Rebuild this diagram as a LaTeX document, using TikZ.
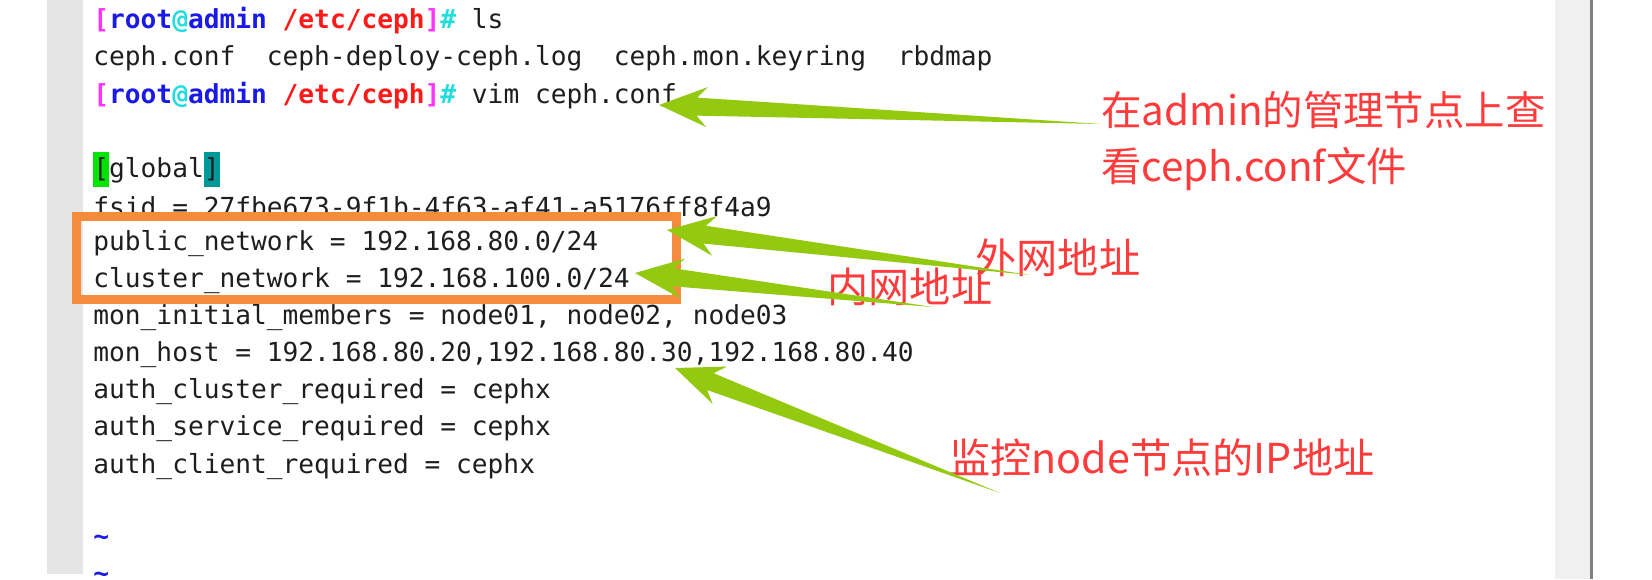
\documentclass[tikz,border=0pt]{standalone}
\usepackage{fontspec}
\setmonofont{DejaVu Sans Mono}
\newfontfamily\cjk{Noto Sans CJK SC}
\usetikzlibrary{calc}
\definecolor{agreen}{HTML}{93C90E}
\definecolor{boxorange}{HTML}{F58B3C}
\definecolor{lblred}{HTML}{FF3B3B}
\definecolor{pmag}{HTML}{FF33FF}
\definecolor{pblue}{HTML}{1A1AE6}
\definecolor{pcyan}{HTML}{22DDDD}
\definecolor{pred}{HTML}{FF1A1A}
\definecolor{txt}{HTML}{1E1E1E}
\newcommand\garrow[2]{%
  \fill[agreen] (#1) -- ($(#1)!24pt!(#2)!10pt!90:(#2)$) -- ($(#1)!19pt!(#2)!4.5pt!90:(#2)$) -- (#2)
   -- ($(#1)!19pt!(#2)!4.5pt!-90:(#2)$) -- ($(#1)!24pt!(#2)!10pt!-90:(#2)$) -- cycle;}
\newcommand\prompt{{\bfseries\color{pmag}[\color{pblue}root\color{pcyan}@\color{pblue}admin \color{pred}/etc/ceph\color{pmag}]\color{pcyan}\#}}
\newcommand\us{\char95\relax}
\begin{document}
\begin{tikzpicture}[x=0.5pt,y=-0.5pt,
  term/.style={anchor=west,inner sep=0,font=\ttfamily\fontsize{13.1pt}{15pt}\selectfont,text=txt},
  lbl/.style={anchor=west,inner sep=0,font=\cjk\fontsize{20.6pt}{27pt}\selectfont,text=lblred,align=left}]
\useasboundingbox (0,0) rectangle (1652,579);
\fill[white] (0,0) rectangle (1652,579);
\fill[black!10] (47,0) rectangle (83,574);
\fill[black!6] (1555,0) rectangle (1590,579);
\fill[black!50] (1590,0) rectangle (1593,579);
\def\ly#1{21+37.1*#1}
\node[term] (l0) at (93,{\ly{0}}) {\prompt{} ls};
\node[term] (l1) at (93,{\ly{1}}) {ceph.conf\ \ ceph-deploy-ceph.log\ \ ceph.mon.keyring\ \ rbdmap};
\node[term] (l2) at (93,{\ly{2}}) {\prompt{} vim ceph.conf};
\node[term] (l4) at (93,{\ly{4}}) {\colorbox{green!90!black}{\hspace*{-\fboxsep}[\hspace*{-\fboxsep}}global\colorbox{teal!80!cyan}{\hspace*{-\fboxsep}]\hspace*{-\fboxsep}}};
\node[term] (l5) at (93,{\ly{5}}) {fsid = 27fbe673-9f1b-4f63-af41-a5176ff8f4a9};
\node[term] (l6) at (93,{\ly{6}}) {public\us network = 192.168.80.0/24};
\node[term] (l7) at (93,{\ly{7}}) {cluster\us network = 192.168.100.0/24};
\node[term] (l8) at (93,{\ly{8}}) {mon\us initial\us members = node01, node02, node03};
\node[term] (l9) at (93,{\ly{9}}) {mon\us host = 192.168.80.20,192.168.80.30,192.168.80.40};
\node[term] (l10) at (93,{\ly{10}}) {auth\us cluster\us required = cephx};
\node[term] (l11) at (93,{\ly{11}}) {auth\us service\us required = cephx};
\node[term] (l12) at (93,{\ly{12}}) {auth\us client\us required = cephx};
\node[term,text=pblue] (l14) at (93,{\ly{14}}) {\bfseries\textasciitilde};
\node[term,text=pblue] (l15) at (93,{\ly{15}}) {\bfseries\textasciitilde};
\draw[boxorange,line width=4.5pt] (76,216) rectangle (676,299);
\node[lbl,font=\cjk\fontsize{20.2pt}{28pt}\selectfont] (t1) at (1101,141) {在admin的管理节点上查\\看ceph.conf文件};
\node[lbl] (t2) at (975,258) {外网地址};
\node[lbl] (t3) at (827,287) {内网地址};
\node[lbl] (t4) at (949,458) {监控node节点的IP地址};
\coordinate (a1h) at (659,105); \coordinate (a1t) at (1101,124);
\coordinate (a2h) at (667,230); \coordinate (a2t) at (1030,275);
\coordinate (a3h) at (635,273); \coordinate (a3t) at (933,307);
\coordinate (a4h) at (675,368); \coordinate (a4t) at (1000,493);
\garrow{a1h}{a1t}
\garrow{a2h}{a2t}
\garrow{a3h}{a3t}
\garrow{a4h}{a4t}
\end{tikzpicture}
\end{document}
